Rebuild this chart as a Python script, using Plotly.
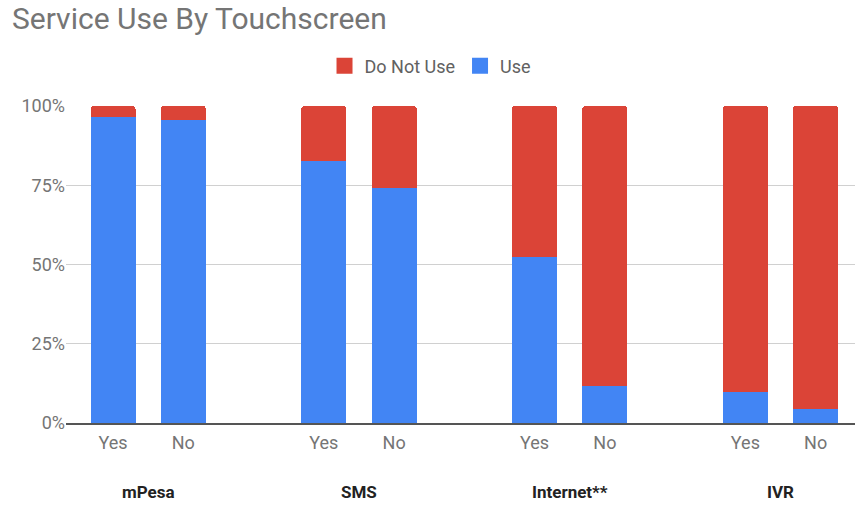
import plotly.graph_objects as go

services = ['mPesa', 'SMS', 'Internet**', 'IVR']
touchscreen = ['Yes', 'No']
# share of respondents who use each service, by touchscreen ownership
use_pct = [[96.5, 95.5], [82.6, 74.0], [52.3, 11.7], [9.8, 4.3]]
do_not_use_pct = [[100 - v for v in row] for row in use_pct]

red = '#DB4437'
blue = '#4285F4'
grey = '#757575'
font = 'Roboto, Arial, sans-serif'

# one empty slot between service groups
x_pos = [g * 3 + s for g in range(len(services)) for s in range(len(touchscreen))]
x_text = [t for _ in services for t in touchscreen]
use_flat = [v / 100 for row in use_pct for v in row]
not_flat = [v / 100 for row in do_not_use_pct for v in row]

fig = go.Figure()
fig.add_trace(go.Bar(x=x_pos, y=use_flat, name='Use', marker_color=blue,
                     width=0.64, showlegend=False, marker_line_width=0))
fig.add_trace(go.Bar(x=x_pos, y=not_flat, name='Do Not Use', marker_color=red,
                     width=0.64, showlegend=False, marker_line_width=0))

# legend entries with bigger square swatches
for name, colour in [('Do Not Use', red), ('Use', blue)]:
    fig.add_trace(go.Scatter(x=[None], y=[None], mode='markers', name=name,
                             marker=dict(symbol='square', size=16, color=colour)))

for g, name in enumerate(services):
    fig.add_annotation(x=g * 3 + 0.5, y=-0.218, xref='x', yref='paper', yanchor='middle',
                       text='<b>%s</b>' % name, showarrow=False,
                       font=dict(family=font, size=17, color='#222222'))

fig.update_layout(
    barmode='stack', barcornerradius=3,
    width=855, height=506,
    margin=dict(l=66, r=0, t=106, b=83),
    paper_bgcolor='white', plot_bgcolor='white',
    title=dict(text='Service Use By Touchscreen', x=0.014, xanchor='left', y=0.963, yanchor='middle',
               font=dict(family=font, size=30, color=grey)),
    legend=dict(orientation='h', x=0.462, xanchor='center', y=1.126, yanchor='middle', itemsizing='trace',
                font=dict(family=font, size=18, color='#616161'), traceorder='normal'),
    xaxis=dict(range=[-0.67, 10.56], tickvals=x_pos, ticktext=x_text, showgrid=False,
               ticks='', ticklabelstandoff=3, tickfont=dict(family=font, size=18, color=grey),
               showline=True, linecolor='#555555', linewidth=1.5, zeroline=False),
    yaxis=dict(range=[0, 1], tickvals=[0, 0.25, 0.5, 0.75, 1], ticktext=['0%', '25%', '50%', '75%', '100%'],
               gridcolor='#d0d0d0', gridwidth=1, zeroline=False, ticks='', ticklen=0,
               tickfont=dict(family=font, size=18, color=grey)),
)

# drop the default 8px page margin so the figure fills the window
fig.write_html('out.html', config={'displayModeBar': False},
               post_script="document.body.style.margin='0';")
